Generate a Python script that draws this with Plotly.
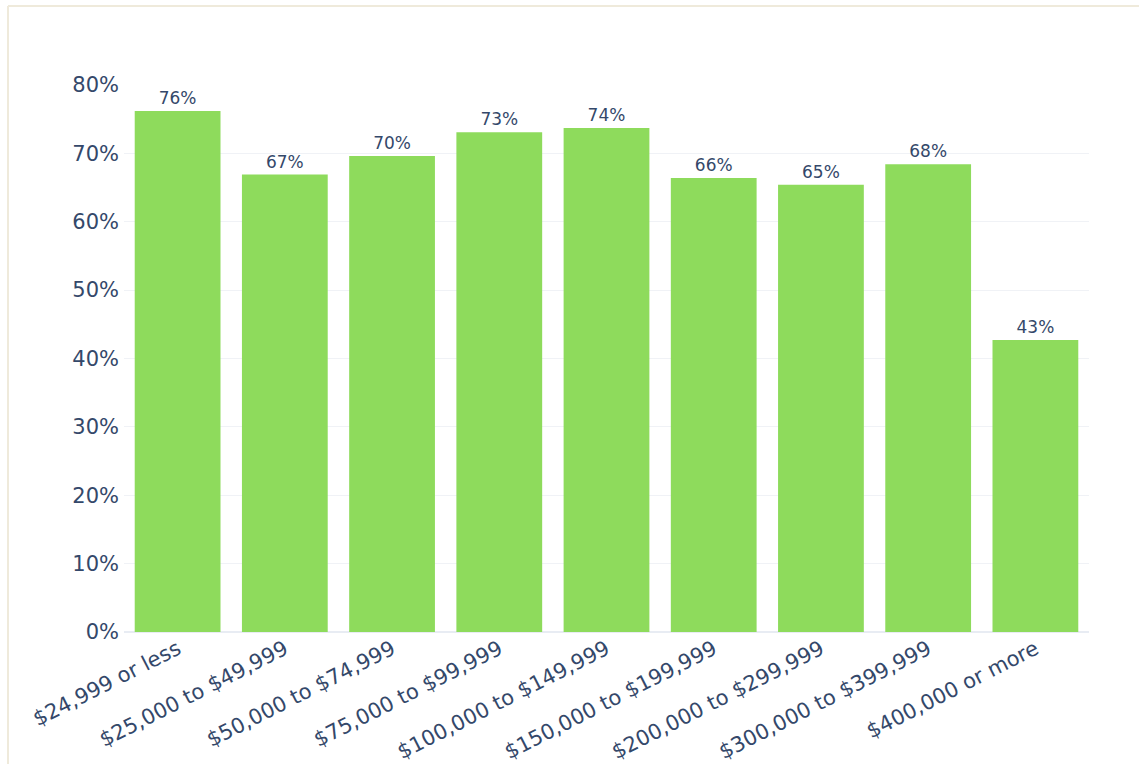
import plotly.graph_objects as go

# Share of respondents by household income bracket
income_brackets = [
    "$24,999 or less",
    "$25,000 to $49,999",
    "$50,000 to $74,999",
    "$75,000 to $99,999",
    "$100,000 to $149,999",
    "$150,000 to $199,999",
    "$200,000 to $299,999",
    "$300,000 to $399,999",
    "$400,000 or more",
]
share = [0.762, 0.669, 0.696, 0.731, 0.737, 0.664, 0.654, 0.684, 0.427]

W, H = 1139, 764
M_L, M_R, M_T, M_B = 124, 50, 85, 132

fig = go.Figure(
    go.Bar(
        x=income_brackets,
        y=share,
        marker=dict(color="#8edb5c", line=dict(width=0)),
        texttemplate="%{y:.0%}",
        textposition="outside",
        textfont=dict(size=17, color="#34486a", family="DejaVu Sans"),
        cliponaxis=False,
    )
)

# light frame along the top and left edges of the page
pw = W - M_L - M_R
ph = H - M_T - M_B
def px_x(x):
    return (x - M_L) / pw
def px_y(y):
    return (H - M_B - y) / ph

frame = dict(color="#efeadb", width=2)
fig.add_shape(type="line", xref="paper", yref="paper",
              x0=px_x(8), x1=px_x(W + 5), y0=px_y(6), y1=px_y(6), line=frame)
fig.add_shape(type="line", xref="paper", yref="paper",
              x0=px_x(8), x1=px_x(8), y0=px_y(6), y1=px_y(H + 5), line=frame)

fig.update_layout(
    template="plotly_white",
    width=W,
    height=H,
    margin=dict(l=M_L, r=M_R, t=M_T, b=M_B),
    bargap=0.2,
    showlegend=False,
    font=dict(family="DejaVu Sans", color="#34486a"),
    paper_bgcolor="white",
    plot_bgcolor="white",
)
fig.update_xaxes(tickangle=-27, tickfont=dict(size=21), automargin=False)
fig.update_yaxes(
    range=[0, 0.8],
    tickformat=".0%",
    dtick=0.1,
    tickfont=dict(size=21),
    ticklabelstandoff=4,
    gridcolor="#f0f2f6",
    zerolinecolor="#e8ecf3",
    zerolinewidth=2,
    automargin=False,
)

fig.write_html("out.html")
